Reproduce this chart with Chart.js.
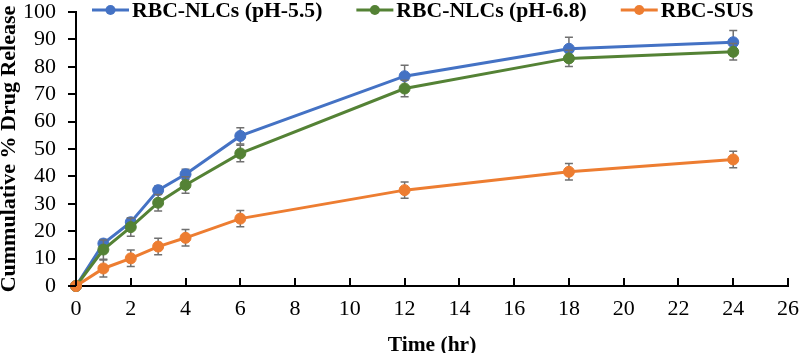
<!DOCTYPE html>
<html><head><meta charset="utf-8">
<script src="https://cdn.jsdelivr.net/npm/chart.js@4"></script>
<style>html,body{margin:0;padding:0;background:#fff}#wrap{width:799px;height:353px;position:relative}</style>
</head><body><div id="wrap"><canvas id="c"></canvas></div>
<script>
const times = [0, 1, 2, 3, 4, 6, 12, 18, 24];
const seriesNames = ['RBC-NLCs (pH-5.5)', 'RBC-NLCs (pH-6.8)', 'RBC-SUS'];
const releasePH55 = [0, 15.5, 23.3, 35.0, 40.8, 54.8, 76.6, 86.6, 89.0];
const releasePH68 = [0, 13.3, 21.5, 30.4, 36.9, 48.4, 72.1, 83.1, 85.5];
const releaseSUS  = [0, 6.4, 10.1, 14.4, 17.6, 24.6, 35.0, 41.7, 46.2];
const errPH55 = [0.5, 1.5, 1.5, 1.5, 1.8, 3.0, 4.0, 4.2, 4.3];
const errPH68 = [0.5, 3.5, 3.3, 3.0, 3.0, 3.0, 3.0, 3.0, 3.0];
const errSUS  = [0.3, 3.1, 3.0, 3.0, 3.0, 3.0, 3.0, 3.0, 3.0];
const seriesColors = ['#4472C4', '#548235', '#ED7D31'];
const xTitle = 'Time (hr)';
const yTitle = 'Cummulative % Drug Release';

const SERIF = "'Liberation Serif', 'Times New Roman', serif";

function pts(vals){ return times.map((t,i)=>({x:t, y:vals[i]})); }
function mkDs(i, vals, errs, order){
  return {
    label: seriesNames[i], data: pts(vals), errors: errs,
    borderColor: seriesColors[i], backgroundColor: seriesColors[i],
    pointBackgroundColor: seriesColors[i], pointBorderColor: seriesColors[i],
    borderWidth: 3, pointRadius: 5.5, pointBorderWidth: 1, tension: 0,
    clip: false, order: order
  };
}

const errorBars = {
  id: 'errorBars',
  beforeDatasetDraw(chart, args){
    const ds = chart.data.datasets[args.index];
    if (!ds.errors) return;
    const ctx = chart.ctx, xs = chart.scales.x, ys = chart.scales.y;
    ctx.save();
    ctx.strokeStyle = '#707070'; ctx.lineWidth = 1.5;
    ds.data.forEach((p, i) => {
      const e = ds.errors[i]; if (!e) return;
      const px = xs.getPixelForValue(p.x);
      const t = ys.getPixelForValue(p.y + e), b = ys.getPixelForValue(p.y - e);
      ctx.beginPath();
      ctx.moveTo(px, t); ctx.lineTo(px, b);
      ctx.moveTo(px - 4, t); ctx.lineTo(px + 4, t);
      ctx.moveTo(px - 4, b); ctx.lineTo(px + 4, b);
      ctx.stroke();
    });
    ctx.restore();
  }
};

// tick marks: y outward (left), x inward (up), like the reference
const tickMarks = {
  id: 'tickMarks',
  afterDraw(chart){
    const ctx = chart.ctx, xs = chart.scales.x, ys = chart.scales.y;
    const a = chart.chartArea;
    ctx.save();
    ctx.strokeStyle = '#000'; ctx.lineWidth = 2;
    ctx.beginPath();
    ys.ticks.forEach(t => {
      const py = Math.round(ys.getPixelForValue(t.value));
      ctx.moveTo(a.left - 8, py); ctx.lineTo(a.left, py);
    });
    xs.ticks.forEach(t => {
      const px = Math.round(xs.getPixelForValue(t.value));
      ctx.moveTo(px, a.bottom - 8); ctx.lineTo(px, a.bottom);
    });
    ctx.stroke();
    ctx.restore();
  }
};

const topLegend = {
  id: 'topLegend',
  afterDraw(chart){
    const ctx = chart.ctx;
    ctx.save();
    ctx.font = 'bold 21.7px ' + SERIF;
    ctx.textBaseline = 'middle';
    let x = 92; const cy = 10;
    chart.data.datasets.forEach(ds => {
      ctx.strokeStyle = ds.borderColor; ctx.lineWidth = 3;
      ctx.beginPath(); ctx.moveTo(x, cy); ctx.lineTo(x + 37, cy); ctx.stroke();
      ctx.fillStyle = ds.borderColor;
      ctx.beginPath(); ctx.arc(x + 18.5, cy, 5, 0, Math.PI * 2); ctx.fill();
      ctx.fillStyle = '#000';
      ctx.fillText(ds.label, x + 40, cy + 1);
      x += 40 + ctx.measureText(ds.label).width + 34;
    });
    ctx.restore();
  }
};

new Chart(document.getElementById('c'), {
  type: 'line',
  data: { datasets: [
    mkDs(0, releasePH55, errPH55, 3),
    mkDs(1, releasePH68, errPH68, 2),
    mkDs(2, releaseSUS, errSUS, 1)
  ]},
  options: {
    responsive: true, maintainAspectRatio: false, devicePixelRatio: 1,
    animation: false,
    layout: { padding: 0 },
    plugins: { legend: { display: false }, tooltip: { enabled: false } },
    scales: {
      x: {
        type: 'linear', min: 0, max: 26,
        ticks: { stepSize: 2, color: '#000', padding: 0, font: { family: SERIF, size: 22, lineHeight: 1.1 }, maxRotation: 0, autoSkip: false },
        grid: { drawOnChartArea: false, drawTicks: true, tickLength: 11, tickColor: 'rgba(0,0,0,0)' },
        border: { color: '#000', width: 2 },
        title: { display: true, text: xTitle, color: '#000', font: { family: SERIF, size: 21.5, weight: 'bold', lineHeight: 0.7 }, padding: 0 },
        afterFit(s){ s.height = 67; }
      },
      y: {
        min: 0, max: 100,
        ticks: { stepSize: 10, color: '#000', padding: 0, autoSkip: false, font: { family: SERIF, size: 22, lineHeight: 1.1 } },
        grid: { drawOnChartArea: false, drawTicks: true, tickLength: 20, tickColor: 'rgba(0,0,0,0)' },
        border: { color: '#000', width: 2 },
        title: { display: true, text: yTitle, color: '#000', font: { family: SERIF, size: 22, weight: 'bold', lineHeight: 0.82 }, padding: 0 },
        afterFit(s){ s.width = 76; }
      }
    }
  },
  plugins: [errorBars, tickMarks, topLegend]
});
</script>
</body></html>
